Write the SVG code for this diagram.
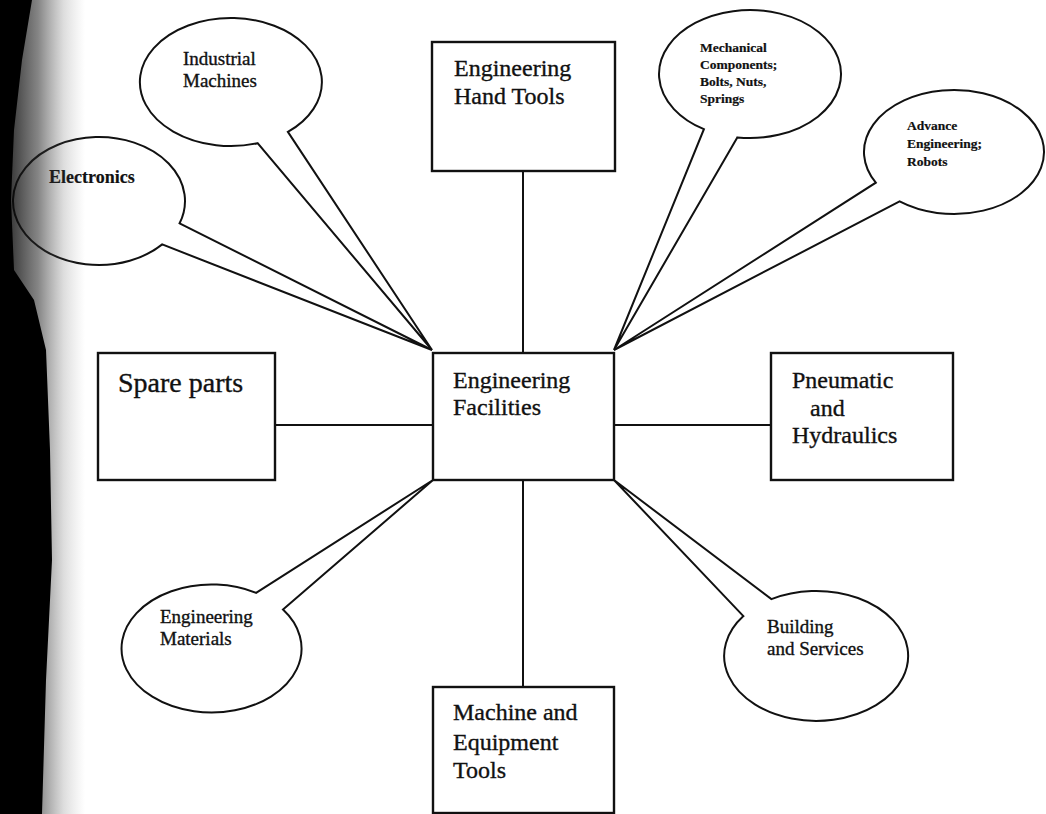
<svg xmlns="http://www.w3.org/2000/svg" width="1046" height="814" viewBox="0 0 1046 814">
  <defs>
    <linearGradient id="scanShadow" x1="0" y1="0" x2="1" y2="0">
      <stop offset="0" stop-color="#000" stop-opacity="0.9"/>
      <stop offset="0.45" stop-color="#222" stop-opacity="0.55"/>
      <stop offset="0.75" stop-color="#444" stop-opacity="0.18"/>
      <stop offset="1" stop-color="#666" stop-opacity="0"/>
    </linearGradient>
  </defs>
  <style>
    .box { fill: #fff; stroke: #111; stroke-width: 2.4; }
    .callout { fill: #fff; stroke: #111; stroke-width: 2; stroke-linejoin: miter; }
    .conn { stroke: #111; stroke-width: 2; fill: none; }
    .lbl { font-family: "Liberation Serif", "Times New Roman", serif; fill: #111; stroke: #111; stroke-width: 0.35; }
    .big { font-size: 24px; }
    .spare { font-size: 28px; }
    .mid { font-size: 19px; }
    .small { font-size: 13.5px; font-weight: bold; stroke-width: 0.2; }
    .elec { font-size: 18px; font-weight: bold; stroke-width: 0.2; }
  </style>
  <rect width="1046" height="814" fill="#fff"/>

  <g id="connectors">
    <line class="conn" x1="523" y1="171" x2="523" y2="353"/>
    <line class="conn" x1="523" y1="480" x2="523" y2="687"/>
    <line class="conn" x1="275" y1="425" x2="433" y2="425"/>
    <line class="conn" x1="614" y1="425" x2="771" y2="425"/>
  </g>

  <g id="industrial-machines">
    <path class="callout" d="M287.9,131.9 L432,350 L257.6,143.2 A91,64 0 1 1 287.9,131.9 Z"/>
    <text class="lbl mid" x="183" y="65">Industrial</text>
    <text class="lbl mid" x="183" y="87">Machines</text>
  </g>

  <g id="electronics">
    <path class="callout" d="M179.6,223.3 L432,350 L162.2,244.4 A86,64 0 1 1 179.6,223.3 Z"/>
    <text class="lbl elec" x="49" y="183">Electronics</text>
  </g>

  <g id="mechanical-components">
    <path class="callout" d="M737.3,137.4 L614,350 L703.9,129.2 A91,64 0 1 1 737.3,137.4 Z"/>
    <text class="lbl small" x="700" y="52">Mechanical</text>
    <text class="lbl small" x="700" y="69">Components;</text>
    <text class="lbl small" x="700" y="86">Bolts, Nuts,</text>
    <text class="lbl small" x="700" y="103">Springs</text>
  </g>

  <g id="advance-engineering">
    <path class="callout" d="M899.6,201.4 L614,350 L875.8,182.7 A90,62 0 1 1 899.6,201.4 Z"/>
    <text class="lbl small" x="907" y="130">Advance</text>
    <text class="lbl small" x="907" y="148">Engineering;</text>
    <text class="lbl small" x="907" y="166">Robots</text>
  </g>

  <g id="engineering-materials">
    <path class="callout" d="M256.1,592.9 L433,480 L283,609.6 A90,64 0 1 1 256.1,592.9 Z"/>
    <text class="lbl mid" x="160" y="623">Engineering</text>
    <text class="lbl mid" x="160" y="645">Materials</text>
  </g>

  <g id="building-services">
    <path class="callout" d="M743.4,616.1 L614,480 L771.4,599.1 A92,65 0 1 1 743.4,616.1 Z"/>
    <text class="lbl mid" x="767" y="633">Building</text>
    <text class="lbl mid" x="767" y="655">and Services</text>
  </g>

  <g id="engineering-hand-tools">
    <rect class="box" x="432" y="42" width="183" height="129"/>
    <text class="lbl big" x="454" y="76">Engineering</text>
    <text class="lbl big" x="454" y="104">Hand Tools</text>
  </g>

  <g id="engineering-facilities">
    <rect class="box" x="433" y="353" width="181" height="127"/>
    <text class="lbl big" x="453" y="388">Engineering</text>
    <text class="lbl big" x="453" y="415">Facilities</text>
  </g>

  <g id="spare-parts">
    <rect class="box" x="98" y="353" width="177" height="127"/>
    <text class="lbl spare" x="118" y="392">Spare parts</text>
  </g>

  <g id="pneumatic-hydraulics">
    <rect class="box" x="771" y="353" width="182" height="127"/>
    <text class="lbl big" x="792" y="388">Pneumatic</text>
    <text class="lbl big" x="810" y="416">and</text>
    <text class="lbl big" x="792" y="443">Hydraulics</text>
  </g>

  <g id="machine-equipment-tools">
    <rect class="box" x="433" y="687" width="181" height="126"/>
    <text class="lbl big" x="453" y="720">Machine and</text>
    <text class="lbl big" x="453" y="750">Equipment</text>
    <text class="lbl big" x="453" y="778">Tools</text>
  </g>

  <rect x="0" y="0" width="85" height="814" fill="url(#scanShadow)"/>
  <path d="M0,0 L32,0 L22,60 L14,130 L11,200 L14,270 L34,300 L46,350 L50,450 L52,560 L46,680 L42,814 L0,814 Z" fill="#000"/>
</svg>
